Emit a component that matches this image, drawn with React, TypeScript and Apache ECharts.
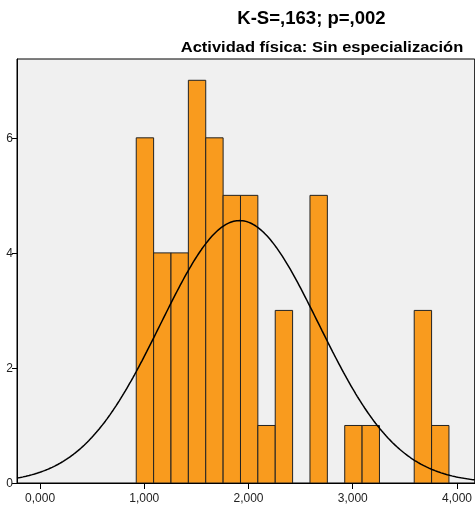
import React, { useEffect, useRef } from "react";
import * as echarts from "echarts";

const binStart = 0.923;
const binWidth = 1 / 6;
const binCounts = [6, 4, 4, 7, 6, 5, 5, 1, 3, 0, 5, 0, 1, 1, 0, 0, 3, 1];
const xTickValues = [0, 1, 2, 3, 4];
const xTickLabels = ["0,000", "1,000", "2,000", "3,000", "4,000"];
const yTickValues = [0, 2, 4, 6];
const curveMean = 1.915;
const curveSd = 0.758;
const titleText = "K-S=,163; p=,002";
const subtitleText = "Actividad física: Sin especialización";

const X_MIN = -0.221;
const X_MAX = 4.17;
const Y_MAX = 7.37;

export default function App() {
  const ref = useRef<HTMLDivElement>(null);
  useEffect(() => {
    if (!ref.current) return;
    const chart = echarts.init(ref.current, null, { renderer: "svg" });
    const n = binCounts.reduce((a, b) => a + b, 0);
    const bars = binCounts
      .map((c, i) => [binStart + i * binWidth, binStart + (i + 1) * binWidth, c])
      .filter((d) => d[2] > 0);
    const curve: number[][] = [];
    const steps = 300;
    for (let k = 0; k <= steps; k++) {
      const x = X_MIN + ((X_MAX - X_MIN) * k) / steps;
      const z = (x - curveMean) / curveSd;
      const y = (n * binWidth * Math.exp(-0.5 * z * z)) / (curveSd * Math.sqrt(2 * Math.PI));
      curve.push([x, y]);
    }
    const font = "Liberation Sans";
    chart.setOption({
      animation: false,
      graphic: [
        {
          type: "text",
          x: 311.5,
          y: 18,
          scaleX: 1.03,
          style: {
            text: titleText,
            fontFamily: font,
            fontWeight: "bold",
            fontSize: 18,
            fill: "#000",
            textAlign: "center",
            textVerticalAlign: "middle",
          },
        },
        {
          type: "text",
          x: 322,
          y: 47,
          scaleX: 1.18,
          style: {
            text: subtitleText,
            fontFamily: font,
            fontWeight: "bold",
            fontSize: 14,
            fill: "#000",
            textAlign: "center",
            textVerticalAlign: "middle",
          },
        },
      ],
      grid: {
        left: 17,
        right: -2,
        top: 59,
        bottom: 23,
        show: true,
        backgroundColor: "#f0f0f0",
        borderColor: "#000",
        borderWidth: 1,
      },
      xAxis: {
        type: "value",
        min: X_MIN,
        max: X_MAX,
        splitLine: { show: false },
        axisLine: { show: true, onZero: false, lineStyle: { color: "#000", width: 1 } },
        axisTick: {
          show: true,
          length: 6,
          customValues: xTickValues,
          lineStyle: { color: "#000" },
        },
        axisLabel: {
          customValues: xTickValues,
          formatter: (v: number) => xTickLabels[xTickValues.indexOf(Math.round(v))] ?? "",
          fontFamily: font,
          fontSize: 12,
          color: "#222",
          margin: 9,
        },
      },
      yAxis: {
        type: "value",
        min: 0,
        max: Y_MAX,
        splitLine: { show: false },
        axisLine: { show: true, onZero: false, lineStyle: { color: "#000", width: 1 } },
        axisTick: {
          show: true,
          length: 5,
          customValues: yTickValues,
          lineStyle: { color: "#000" },
        },
        axisLabel: {
          customValues: yTickValues,
          fontFamily: font,
          fontSize: 12,
          color: "#222",
          margin: 4,
        },
      },
      series: [
        {
          type: "custom",
          data: bars,
          encode: { x: [0, 1], y: 2 },
          clip: true,
          renderItem: (params: any, api: any) => {
            const s = api.coord([api.value(0), 0]);
            const e = api.coord([api.value(1), api.value(2)]);
            return {
              type: "rect",
              shape: { x: s[0], y: e[1], width: e[0] - s[0], height: s[1] - e[1] },
              style: { fill: "#f99b1e", stroke: "#222", lineWidth: 1 },
            };
          },
          z: 2,
        },
        {
          type: "line",
          data: curve,
          showSymbol: false,
          symbol: "none",
          smooth: false,
          lineStyle: { color: "#000", width: 1.5 },
          z: 3,
        },
      ],
    });
    return () => chart.dispose();
  }, []);
  return (
    <div
      ref={ref}
      style={{ position: "fixed", left: 0, top: 0, width: 475, height: 506 }}
    />
  );
}
